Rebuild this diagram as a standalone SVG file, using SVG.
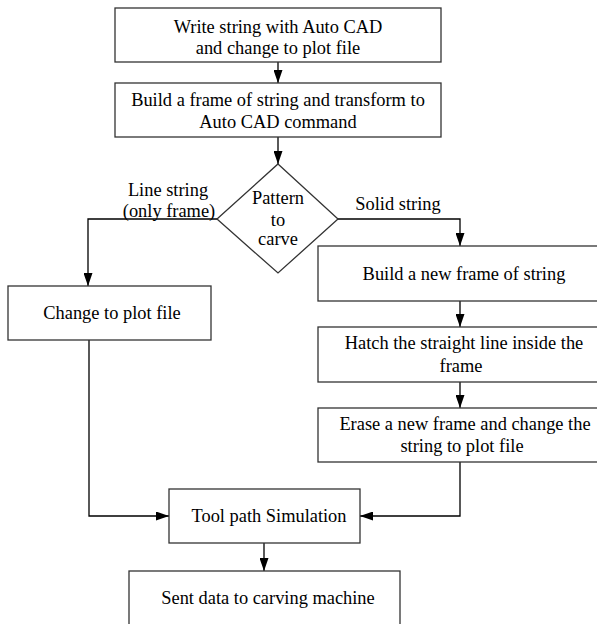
<svg xmlns="http://www.w3.org/2000/svg" width="597" height="624" viewBox="0 0 597 624">
<defs>
<marker id="arr" markerWidth="13" markerHeight="9" refX="13" refY="4.5" orient="auto" markerUnits="userSpaceOnUse">
<path d="M0,0 L13,4.5 L0,9 Z" fill="#000"/>
</marker>
<style>
.box{fill:#fff;stroke:#333;stroke-width:1.3}
.t{font-family:"Liberation Serif","Times New Roman",serif;font-size:18.4px;fill:#000;text-anchor:middle}
.c{fill:none;stroke:#000;stroke-width:1.3}
</style>
</defs>
<rect width="597" height="624" fill="#fff"/>
<g id="connectors">
<path class="c" d="M278,62 V83" marker-end="url(#arr)"/>
<path class="c" d="M278,137 V164" marker-end="url(#arr)"/>
<path class="c" d="M217,219 H88 V286" marker-end="url(#arr)"/>
<path class="c" d="M338,219 H460 V246" marker-end="url(#arr)"/>
<path class="c" d="M460,301 V327" marker-end="url(#arr)"/>
<path class="c" d="M460,382 V408" marker-end="url(#arr)"/>
<path class="c" d="M89,340 V516 H169" marker-end="url(#arr)"/>
<path class="c" d="M460,462 V516 H360" marker-end="url(#arr)"/>
<path class="c" d="M264,543 V571" marker-end="url(#arr)"/>
<text class="t" x="168" y="196">Line string</text>
<text class="t" x="169" y="217">(only frame)</text>
<text class="t" x="398" y="210">Solid string</text>
</g>
<g id="n1">
<rect class="box" x="115" y="8" width="326" height="54"/>
<text class="t" x="278" y="33">Write string with Auto CAD</text>
<text class="t" x="278" y="54">and change to plot file</text>
</g>
<g id="n2">
<rect class="box" x="115" y="83" width="326" height="54"/>
<text class="t" x="278" y="106">Build a frame of string and transform to</text>
<text class="t" x="278" y="128">Auto CAD command</text>
</g>
<g id="n3">
<polygon class="box" points="278,164 338,219 278,273 217,219"/>
<text class="t" x="278" y="204">Pattern</text>
<text class="t" x="278" y="226">to</text>
<text class="t" x="278" y="245">carve</text>
</g>
<g id="n4">
<rect class="box" x="8" y="286" width="203" height="54"/>
<text class="t" x="112" y="319">Change to plot file</text>
</g>
<g id="n5">
<rect class="box" x="318" y="246" width="285" height="55"/>
<text class="t" x="464" y="280">Build a new frame of string</text>
</g>
<g id="n6">
<rect class="box" x="318" y="327" width="285" height="55"/>
<text class="t" x="464" y="349">Hatch the straight line inside the</text>
<text class="t" x="461" y="372">frame</text>
</g>
<g id="n7">
<rect class="box" x="318" y="408" width="285" height="54"/>
<text class="t" x="465" y="430">Erase a new frame and change the</text>
<text class="t" x="462" y="452">string to plot file</text>
</g>
<g id="n8">
<rect class="box" x="169" y="489" width="191" height="54"/>
<text class="t" x="269" y="522">Tool path Simulation</text>
</g>
<g id="n9">
<rect class="box" x="129" y="571" width="271" height="60"/>
<text class="t" x="268" y="604">Sent data to carving machine</text>
</g>
</svg>
